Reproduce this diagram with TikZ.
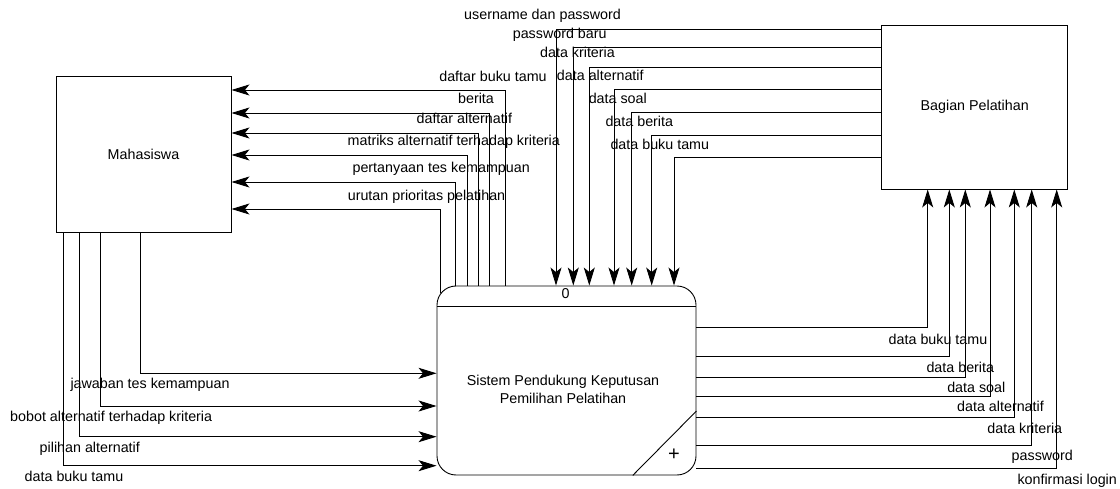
\documentclass[tikz,border=0pt]{standalone}
\usepackage{fontspec}
\setmainfont{Liberation Sans}
\usetikzlibrary{arrows.meta}

\tikzset{
  entity/.style={draw, line width=0.9pt, rectangle, inner sep=0pt},
  flow/.style={draw, line width=0.9pt, -{Stealth[length=18pt,width=11pt,inset=4.5pt]}},
  lbl/.style={anchor=base, inner sep=0pt},
}

\begin{document}
\begin{tikzpicture}[x=1pt, y=-1pt, font=\fontsize{14.3}{17}\selectfont]
        \useasboundingbox (0,0) rectangle (1120,489);

        % Draw the external entities
        \node[entity, minimum width=175pt, minimum height=156pt] (mhs) at (143.5,154) {Mahasiswa};
        \node[entity, minimum width=186pt, minimum height=164pt] (bp) at (974.7,107) {Bagian Pelatihan};

        % Draw the process
        \node[draw, line width=0.9pt, rounded corners=19pt, minimum width=259pt, minimum height=189pt, inner sep=0pt] (proc) at (566.5,380.5) {};
        \draw[line width=0.9pt] (proc.west |- 0,306) -- (proc.east |- 0,306);
        \node[lbl] (pid) at (565.7,299) {0};
        \node[align=center, inner sep=0pt, font=\fontsize{14.3}{18}\selectfont] (pname) at (563,389) {Sistem Pendukung Keputusan\\Pemilihan Pelatihan};
        \draw[line width=0.9pt] (proc.south -| 632.7,0) -- (proc.east |- 0,411);
        \node[inner sep=0pt, font=\fontsize{20}{20}\selectfont] (plus) at (674,455) {+};

        % Draw the flows from the process to Mahasiswa
        \draw[flow] (proc.north -| 505.7,0) |- (mhs.east |- 0,90);
        \draw[flow] (proc.north -| 489,0) |- (mhs.east |- 0,113);
        \draw[flow] (proc.north -| 478.5,0) |- (mhs.east |- 0,133);
        \draw[flow] (proc.north -| 467.8,0) |- (mhs.east |- 0,155);
        \draw[flow] (proc.north -| 455.5,0) |- (mhs.east |- 0,182);
        \draw[flow] ([shift={(3.7,7.7)}]proc.north west) |- (mhs.east |- 0,209);
        \node[lbl] (l1) at (493,81.5) {daftar buku tamu};
        \node[lbl] (l2) at (476,103.5) {berita};
        \node[lbl] (l3) at (464.3,123.5) {daftar alternatif};
        \node[lbl] (l4) at (453.8,146) {matriks alternatif terhadap kriteria};
        \node[lbl] (l5) at (441.2,172.5) {pertanyaan tes kemampuan};
        \node[lbl] (l6) at (426.5,200.5) {urutan prioritas pelatihan};

        % Draw the flows from Bagian Pelatihan to the process
        \draw[flow] (bp.west |- 0,29) -| (proc.north -| 556,0);
        \draw[flow] (bp.west |- 0,47.7) -| (proc.north -| 573.3,0);
        \draw[flow] (bp.west |- 0,67.3) -| (proc.north -| 589.3,0);
        \draw[flow] (bp.west |- 0,89.3) -| (proc.north -| 614,0);
        \draw[flow] (bp.west |- 0,112.3) -| (proc.north -| 631.7,0);
        \draw[flow] (bp.west |- 0,135.7) -| (proc.north -| 651.7,0);
        \draw[flow] (bp.west |- 0,157) -| (proc.north -| 674,0);
        \node[lbl] (t1) at (542.5,19.5) {username dan password};
        \node[lbl] (t2) at (559.7,38.5) {password baru};
        \node[lbl] (t3) at (577.5,57.5) {data kriteria};
        \node[lbl] (t4) at (600.3,80.5) {data alternatif};
        \node[lbl] (t5) at (617.8,103.5) {data soal};
        \node[lbl] (t6) at (639.3,126.5) {data berita};
        \node[lbl] (t7) at (659.8,149.5) {data buku tamu};

        % Draw the flows from Mahasiswa to the process
        \draw[flow] (mhs.south -| 140,0) |- (proc.west |- 0,373.3);
        \draw[flow] (mhs.south -| 100.7,0) |- (proc.west |- 0,406);
        \draw[flow] (mhs.south -| 79,0) |- (proc.west |- 0,436.7);
        \draw[flow] (mhs.south -| 63.3,0) |- (proc.west |- 0,465.7);
        \node[lbl] (b1) at (150,388.5) {jawaban tes kemampuan};
        \node[lbl] (b2) at (111.2,421.5) {bobot alternatif terhadap kriteria};
        \node[lbl] (b3) at (89.8,452.5) {pilihan alternatif};
        \node[lbl] (b4) at (74,481.5) {data buku tamu};

        % Draw the flows from the process to Bagian Pelatihan
        \draw[flow] (proc.east |- 0,327.7) -| (bp.south -| 927.7,0);
        \draw[flow] (proc.east |- 0,356.7) -| (bp.south -| 949.3,0);
        \draw[flow] (proc.east |- 0,377.3) -| (bp.south -| 965.3,0);
        \draw[flow] (proc.east |- 0,396.3) -| (bp.south -| 990,0);
        \draw[flow] (proc.east |- 0,417.3) -| (bp.south -| 1014.3,0);
        \draw[flow] (proc.east |- 0,445) -| (bp.south -| 1031.7,0);
        \draw[flow] (proc.east |- 0,468.3) -| (bp.south -| 1056.7,0);
        \node[lbl] (r1) at (938,344.5) {data buku tamu};
        \node[lbl] (r2) at (960.3,372.5) {data berita};
        \node[lbl] (r3) at (976.3,392.5) {data soal};
        \node[lbl] (r4) at (1000.5,411.5) {data alternatif};
        \node[lbl] (r5) at (1024.8,433.5) {data kriteria};
        \node[lbl] (r6) at (1042.3,460.5) {password};
        \node[lbl] (r7) at (1067.2,484.5) {konfirmasi login};

\end{tikzpicture}
\end{document}
